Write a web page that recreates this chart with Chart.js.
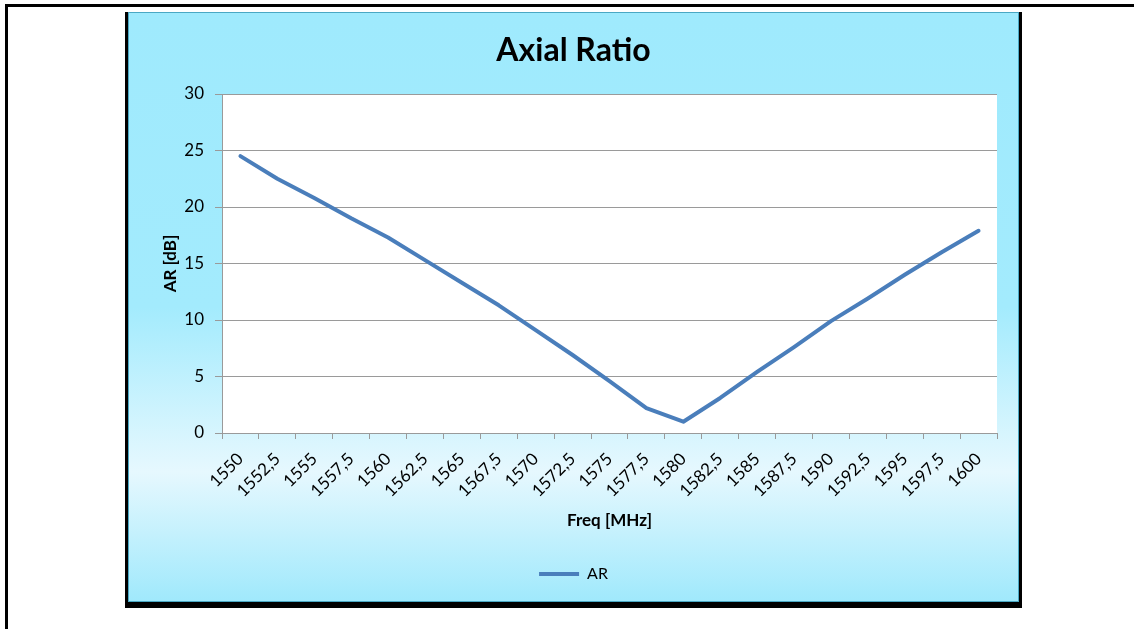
<!DOCTYPE html>
<html>
<head>
<meta charset="utf-8">
<script src="https://cdn.jsdelivr.net/npm/chart.js@4"></script>
<style>
  html, body { margin: 0; padding: 0; background: #fff; }
  body { width: 1134px; height: 629px; position: relative; overflow: hidden; }
  #page {
    position: absolute; left: 5px; top: 4px; width: 1200px; height: 700px;
    border-left: 3px solid #000; border-top: 3px solid #000;
  }
  #frame {
    position: absolute; left: 128px; top: 12px; width: 889px; height: 588px;
    border: 1px solid #4aa8c4;
    box-shadow: 0 3px 0 3px #000;
    background: linear-gradient(to bottom, #9feafd 0%, #a3ebfd 50%, #e6f8fe 78%, #a0e9fc 100%);
  }
  #frame canvas { position: absolute; left: 0; top: 0; }
</style>
</head>
<body>
<div id="page"></div>
<div id="frame"><canvas id="arChart" width="889" height="588"></canvas></div>
<script>
const freqLabels = ['1550', '1552,5', '1555', '1557,5', '1560', '1562,5', '1565', '1567,5', '1570', '1572,5',
    '1575', '1577,5', '1580', '1582,5', '1585', '1587,5', '1590', '1592,5', '1595', '1597,5', '1600'];
const arValues = [24.5, 22.5, 20.8, 19.0, 17.3, 15.3, 13.3, 11.3, 9.1, 6.9,
    4.6, 2.2, 1.0, 3.1, 5.4, 7.6, 9.9, 11.9, 14.0, 16.0, 17.9];
const yTicks = [0, 5, 10, 15, 20, 25, 30];

const fontFamily = 'Lato, "Open Sans", sans-serif';

// white plot area like Excel
const plotBackground = {
    id: 'plotBackground',
    beforeDraw(chart) {
        const a = chart.chartArea;
        const ctx = chart.ctx;
        ctx.save();
        ctx.fillStyle = '#fff';
        ctx.fillRect(a.left, a.top, a.right - a.left, a.bottom - a.top);
        ctx.restore();
    }
};

const data = {
    labels: freqLabels,
    datasets: [{
        label: 'AR',
        data: arValues,
        borderColor: '#4a7ebb',
        backgroundColor: '#4a7ebb',
        borderWidth: 4,
        borderCapStyle: 'round',
        borderJoinStyle: 'round',
        pointRadius: 0,
        tension: 0
    }]
};

const config = {
    type: 'line',
    data: data,
    options: {
        responsive: false,
        animation: false,
        layout: {
            padding: { left: 0, right: 0, top: 0, bottom: 9 }
        },
        scales: {
            x: {
                offset: true,
                grid: {
                    offset: true,
                    drawOnChartArea: false,
                    tickLength: 6,
                    color: '#9a9a9a'
                },
                border: { color: '#9a9a9a' },
                ticks: {
                    autoSkip: false,
                    maxRotation: 45,
                    minRotation: 45,
                    padding: 10,
                    color: '#000',
                    font: { family: fontFamily, size: 17 }
                },
                title: {
                    display: true,
                    text: 'Freq [MHz]',
                    color: '#000',
                    font: { family: fontFamily, size: 17, weight: 'bold' },
                    padding: { top: 0, bottom: 25 }
                },
                afterFit(scale) { scale.height = 123; }
            },
            y: {
                min: 0,
                max: 30,
                afterBuildTicks(scale) { scale.ticks = yTicks.map(v => ({ value: v })); },
                grid: {
                    color: '#9a9a9a',
                    tickLength: 7
                },
                border: { color: '#9a9a9a' },
                ticks: {
                    padding: 11,
                    color: '#000',
                    font: { family: fontFamily, size: 17 }
                },
                title: {
                    display: true,
                    text: 'AR [dB]',
                    color: '#000',
                    font: { family: fontFamily, size: 17, weight: 'bold' },
                    padding: { top: 31, bottom: 0 }
                },
                afterFit(scale) { scale.width = 93; }
            },
            // empty right axis only keeps the right margin so title and legend stay centred
            yRight: {
                position: 'right',
                min: 0,
                max: 30,
                grid: { drawOnChartArea: false, drawTicks: false },
                border: { display: false },
                ticks: { display: false },
                afterFit(scale) { scale.width = 21; }
            }
        },
        plugins: {
            title: {
                display: true,
                text: 'Axial Ratio',
                color: '#000',
                font: { family: fontFamily, size: 32, weight: 'bold' },
                padding: { top: 18, bottom: 24.6 }
            },
            legend: {
                position: 'bottom',
                labels: {
                    usePointStyle: true,
                    pointStyle: 'line',
                    pointStyleWidth: 40,
                    padding: 10,
                    color: '#000',
                    font: { family: fontFamily, size: 16 }
                }
            },
            tooltip: { enabled: false }
        }
    },
    plugins: [plotBackground]
};

const ctx = document.getElementById('arChart').getContext('2d');
new Chart(ctx, config);
</script>
</body>
</html>
